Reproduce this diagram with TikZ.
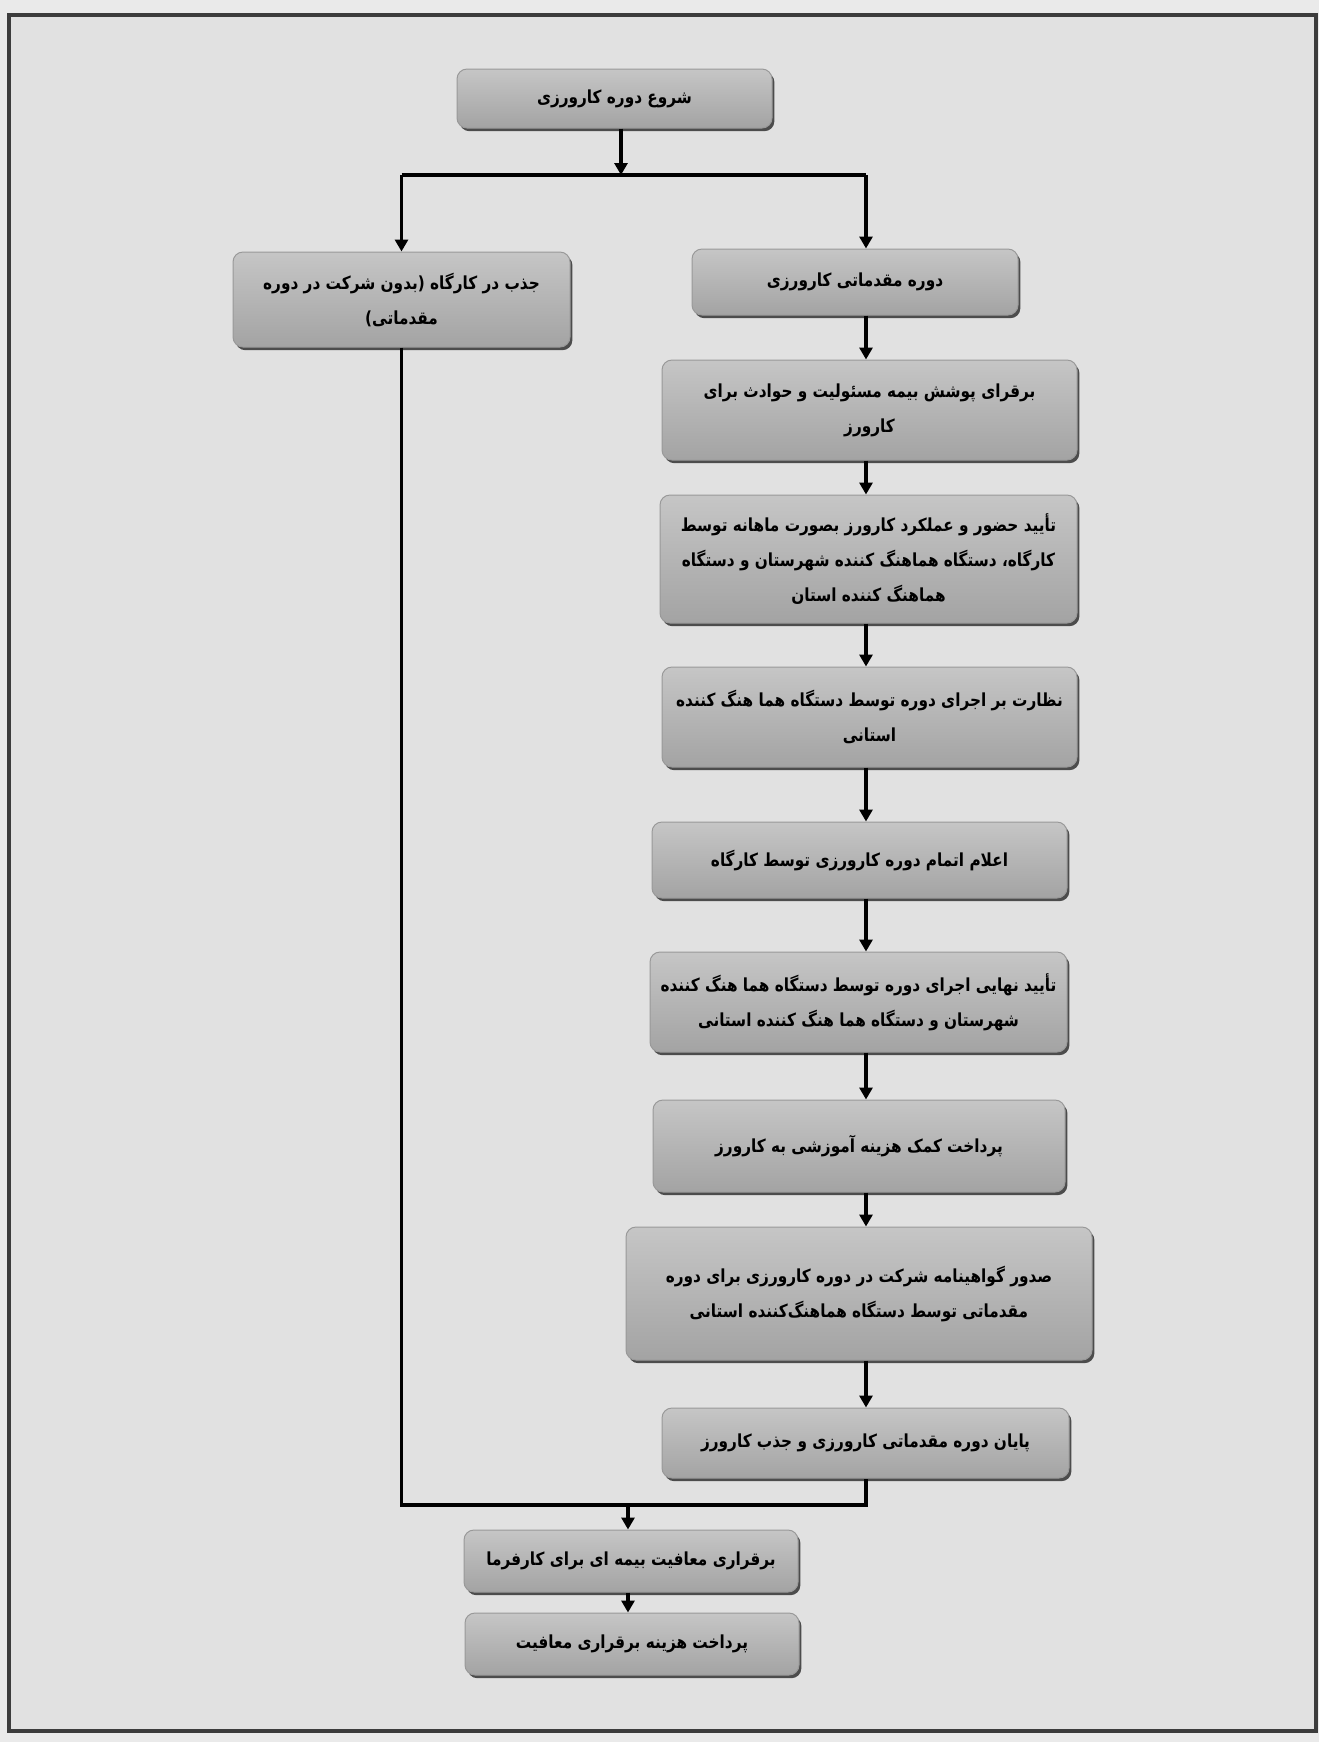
\documentclass[tikz,border=0pt]{standalone}
\usepackage{fontspec}
\newfontfamily\arabicfont[Script=Arabic, FakeStretch=0.85]{DejaVu Sans}
\TeXXeTstate=1
\usetikzlibrary{arrows.meta,shadows,calc}
\newcommand{\pline}[1]{\beginR #1\endR}
\definecolor{pagebg}{RGB}{234,234,234}
\definecolor{innerbg}{RGB}{225,225,225}
\definecolor{framec}{RGB}{60,60,60}
\tikzset{
  fbox/.style={rectangle, rounded corners=5pt, draw=gray!80, line width=0.5pt,
    top color=gray!45, bottom color=gray!72, align=center, inner sep=2pt,
    drop shadow={shadow xshift=1.2pt, shadow yshift=-1.6pt, fill=black!80, opacity=0.85},
    font=\arabicfont\bfseries\fontsize{9}{17.5}\selectfont, text=black},
  conn/.style={line width=1.6pt, black},
  arr/.style={conn, -{Triangle[length=6pt,width=6.5pt]}}
}
\begin{document}
\begin{tikzpicture}[x=0.5pt,y=-0.5pt]
\useasboundingbox (0,0) rectangle (1319,1742);
\fill[pagebg] (0,0) rectangle (1319,1742);
\filldraw[fill=innerbg, draw=framec, line width=2pt] (9,15) rectangle (1316,1731);

\coordinate (spine) at (866,0);
\coordinate (sx) at (621,0);
\coordinate (mx) at (628,0);
\coordinate (bry) at (0,175);
\coordinate (mgy) at (0,1505);

\node[fbox, minimum width=157.5pt, minimum height=29.5pt] (start) at (614.5,98.5) {\pline{شروع دوره کارورزی}};
\node[fbox, minimum width=168.5pt, minimum height=47.5pt] (jn) at (401.5,299.5) {\pline{جذب در کارگاه (بدون شرکت در دوره}\\\pline{مقدماتی)}};
\node[fbox, minimum width=163pt, minimum height=33pt] (b2) at (855,282) {\pline{دوره مقدماتی کارورزی}};
\node[fbox, minimum width=207.5pt, minimum height=50pt] (b3) at (869.5,410) {\pline{برقرای پوشش بیمه مسئولیت و حوادث برای}\\\pline{کارورز}};
\node[fbox, minimum width=208.5pt, minimum height=64pt] (b4) at (868.5,559) {\pline{تأیید حضور و عملکرد کارورز بصورت ماهانه توسط}\\\pline{کارگاه، دستگاه هماهنگ کننده شهرستان و دستگاه}\\\pline{هماهنگ کننده استان}};
\node[fbox, minimum width=207.5pt, minimum height=50pt] (b5) at (869.5,717) {\pline{نظارت بر اجرای دوره توسط دستگاه هما هنگ کننده}\\\pline{استانی}};
\node[fbox, minimum width=207.5pt, minimum height=38pt] (b6) at (859.5,860) {\pline{اعلام اتمام دوره کارورزی توسط کارگاه}};
\node[fbox, minimum width=208.5pt, minimum height=50pt] (b7) at (858.5,1002) {\pline{تأیید نهایی اجرای دوره توسط دستگاه هما هنگ کننده}\\\pline{شهرستان و دستگاه هما هنگ کننده استانی}};
\node[fbox, minimum width=206pt, minimum height=46pt] (b8) at (859,1146) {\pline{پرداخت کمک هزینه آموزشی به کارورز}};
\node[fbox, minimum width=233pt, minimum height=66.5pt] (b9) at (859,1293.5) {\pline{صدور گواهینامه شرکت در دوره کارورزی برای دوره}\\\pline{مقدماتی توسط دستگاه هماهنگ‌کننده استانی}};
\node[fbox, minimum width=203.5pt, minimum height=35pt] (b10) at (865.5,1443) {\pline{پایان دوره مقدماتی کارورزی و جذب کارورز}};
\node[fbox, minimum width=167pt, minimum height=31pt] (b11) at (631,1561) {\pline{برقراری معافیت بیمه ای برای کارفرما}};
\node[fbox, minimum width=167pt, minimum height=31pt] (b12) at (632,1644) {\pline{پرداخت هزینه برقراری معافیت}};

% branch
\draw[conn] (jn.north |- bry) -- (spine |- bry);
\draw[arr] (start.south -| sx) -- (sx |- bry);
\draw[arr] (jn.north |- bry) -- (jn.north);
\draw[arr] (spine |- bry) -- (b2.north -| spine);
% main column
\draw[arr] (b2.south -| spine) -- (b3.north -| spine);
\draw[arr] (b3.south -| spine) -- (b4.north -| spine);
\draw[arr] (b4.south -| spine) -- (b5.north -| spine);
\draw[arr] (b5.south -| spine) -- (b6.north -| spine);
\draw[arr] (b6.south -| spine) -- (b7.north -| spine);
\draw[arr] (b7.south -| spine) -- (b8.north -| spine);
\draw[arr] (b8.south -| spine) -- (b9.north -| spine);
\draw[arr] (b9.south -| spine) -- (b10.north -| spine);
% merge
\draw[conn, line join=miter] (jn.south) |- (spine |- mgy) -- (b10.south -| spine);
\draw[arr] (mx |- mgy) -- (b11.north -| mx);
\draw[arr] (b11.south -| mx) -- (b12.north -| mx);
\end{tikzpicture}
\end{document}
